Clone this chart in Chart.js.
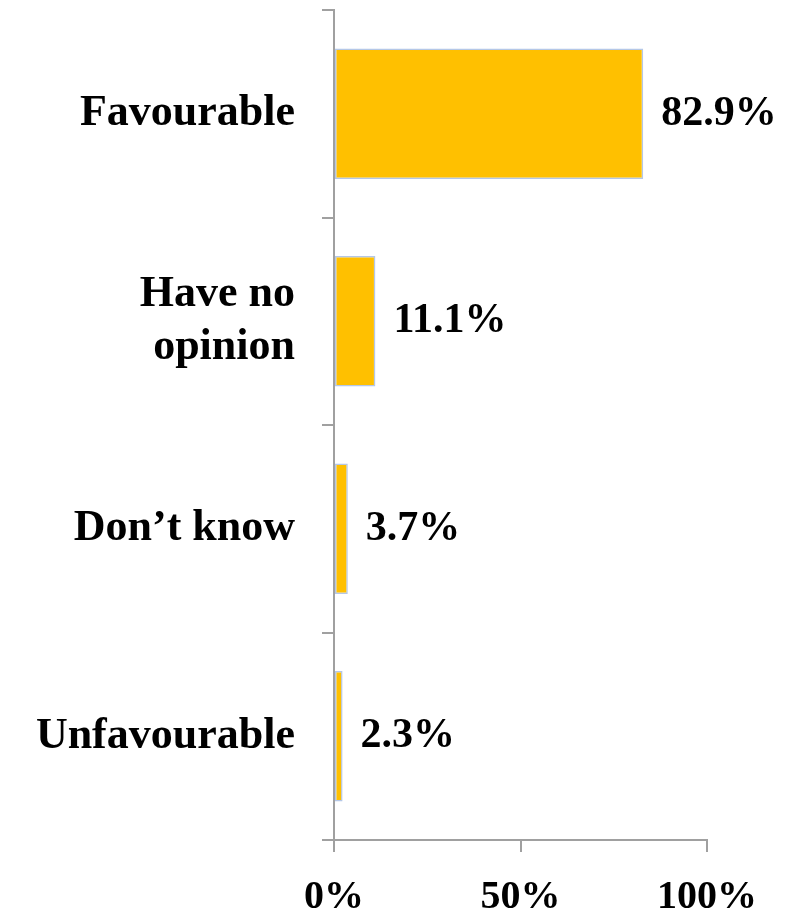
<!DOCTYPE html>
<html>
<head>
<meta charset="utf-8">
<script src="https://cdn.jsdelivr.net/npm/chart.js@4/dist/chart.umd.min.js"></script>
<style>
  html, body { margin: 0; padding: 0; background: #fff; }
  #wrap { width: 788px; height: 918px; }
</style>
</head>
<body>
<div id="wrap"><canvas id="grafico" width="788" height="918"></canvas></div>
<script>
const categorias = ['Favourable', ['Have no', 'opinion'], 'Don\u2019t know', 'Unfavourable'];
const valores = [82.9, 11.1, 3.7, 2.3];
const ticksX = [0, 50, 100];

const fonte = '"Liberation Serif", "Times New Roman", serif';
const corEixo = '#a0a0a0';

// rotulos de valor na ponta de cada barra
const rotulosBarras = {
  id: 'rotulosBarras',
  afterDatasetsDraw(chart) {
    const ctx = chart.ctx;
    const meta = chart.getDatasetMeta(0);
    ctx.save();
    ctx.font = 'bold 42px ' + fonte;
    ctx.fillStyle = '#000';
    ctx.textAlign = 'left';
    ctx.textBaseline = 'middle';
    meta.data.forEach((bar, i) => {
      ctx.fillText(valores[i].toFixed(1) + '%', bar.x + 18, bar.y);
    });
    ctx.restore();
  }
};

const ctx = document.getElementById('grafico').getContext('2d');
new Chart(ctx, {
  type: 'bar',
  data: {
    labels: categorias,
    datasets: [{
      data: valores,
      backgroundColor: '#FFC000',
      borderColor: '#B4C7E7',
      borderWidth: 1.5,
      borderSkipped: false,
      barPercentage: 0.63,
      categoryPercentage: 1
    }]
  },
  options: {
    indexAxis: 'y',
    responsive: false,
    animation: false,
    layout: { padding: { top: 10, right: 81, left: 0, bottom: 0 } },
    plugins: {
      legend: { display: false },
      tooltip: { enabled: false }
    },
    scales: {
      x: {
        min: 0,
        max: 100,
        afterBuildTicks: s => { s.ticks = ticksX.map(v => ({ value: v })); },
        afterFit: s => { s.height = 78; s.paddingLeft = 0; s.paddingRight = 0; },
        border: { color: corEixo, width: 2 },
        grid: { drawOnChartArea: false, drawTicks: true, tickLength: 12, color: corEixo, lineWidth: 2 },
        ticks: {
          padding: 22,
          color: '#000',
          font: { family: fonte, size: 40, weight: 'bold' },
          callback: v => v + '%'
        }
      },
      y: {
        afterFit: s => { s.width = 334; s.paddingTop = 0; s.paddingBottom = 0; },
        border: { color: corEixo, width: 2 },
        grid: { drawOnChartArea: false, drawTicks: true, tickLength: 12, offset: true, color: corEixo, lineWidth: 2 },
        ticks: {
          padding: 27,
          color: '#000',
          font: { family: fonte, size: 44, weight: 'bold', lineHeight: 1.2 }
        }
      }
    }
  },
  plugins: [rotulosBarras]
});
</script>
</body>
</html>
